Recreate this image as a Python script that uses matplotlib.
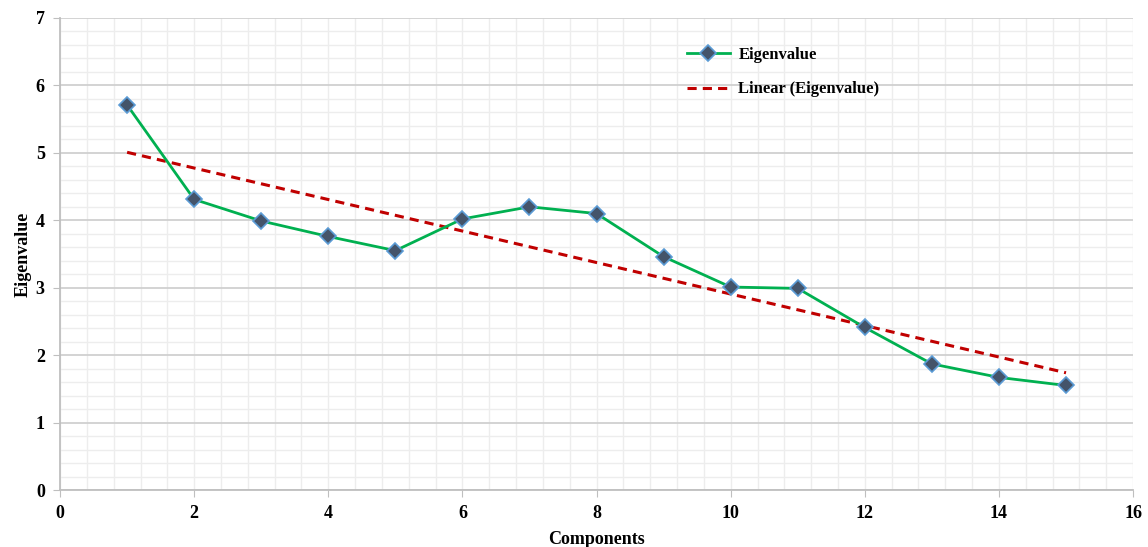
import numpy as np
import matplotlib.pyplot as plt
from matplotlib.ticker import MultipleLocator

# values
components = [1, 2, 3, 4, 5, 6, 7, 8, 9, 10, 11, 12, 13, 14, 15]
eigenvalues = [5.71, 4.31, 3.99, 3.76, 3.55, 4.02, 4.20, 4.10,
               3.46, 3.01, 2.99, 2.41, 1.87, 1.67, 1.55]

plt.rcParams['font.family'] = ['Liberation Serif', 'DejaVu Serif']
plt.rcParams['font.weight'] = 'bold'

fig = plt.figure(figsize=(11.48, 5.47), dpi=100)
ax = fig.add_axes([0.0523, 0.1042, 0.9347, 0.8629])

x = np.array(components)
y = np.array(eigenvalues)

ax.plot(x, y, color='#00B050', lw=2, marker='D', ms=8,
        mfc='#44546A', mec='#5B9BD5', mew=1.2, label='Eigenvalue', zorder=3)

# linear trendline like Excel
slope, icpt = np.polyfit(x, y, 1)
ax.plot(x, slope * x + icpt, color='#C00000', lw=2.2, ls=(0, (3, 2)),
        label='Linear (Eigenvalue)', zorder=2)

ax.set_xlim(0, 16)
ax.set_ylim(0, 7)
ax.xaxis.set_major_locator(MultipleLocator(2))
ax.xaxis.set_minor_locator(MultipleLocator(0.4))
ax.yaxis.set_major_locator(MultipleLocator(1))
ax.yaxis.set_minor_locator(MultipleLocator(0.2))

ax.grid(which='minor', color='#EDEDED', lw=1)
ax.grid(which='major', axis='x', color='#EDEDED', lw=1)
ax.grid(which='major', axis='y', color='#D0D0D0', lw=1.3)
ax.set_axisbelow(True)

for s in ['top', 'right']:
    ax.spines[s].set_visible(False)
for s in ['left', 'bottom']:
    ax.spines[s].set_color('#BFBFBF')
    ax.spines[s].set_linewidth(1.3)

ax.tick_params(which='major', length=5, color='#BFBFBF', labelsize=13, pad=6)
ax.tick_params(which='minor', length=0)
for lab in ax.get_xticklabels() + ax.get_yticklabels():
    lab.set_fontweight('bold')

ax.set_xlabel('Components', fontsize=13, fontweight='bold', labelpad=6)
ax.set_ylabel('Eigenvalue', fontsize=13, fontweight='bold', labelpad=3)

leg = ax.legend(loc='upper left', bbox_to_anchor=(0.57, 0.97), frameon=False,
                fontsize=12, handlelength=2.6, labelspacing=1.1, handletextpad=0.5)
for t in leg.get_texts():
    t.set_fontweight('bold')

fig.savefig('out.png', dpi=100)
